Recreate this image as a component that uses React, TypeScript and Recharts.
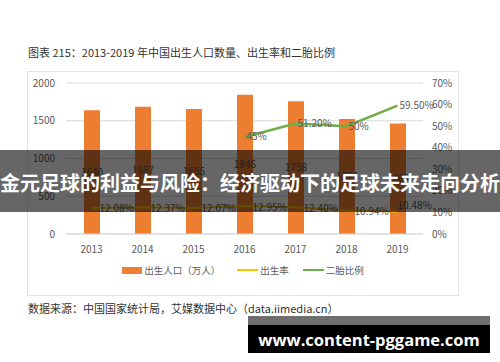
import React from "react";
import {
  ComposedChart,
  Bar,
  Line,
  XAxis,
  YAxis,
  CartesianGrid,
  Legend,
  LabelList,
} from "recharts";

const years = ["2013", "2014", "2015", "2016", "2017", "2018", "2019"];
const births = [1640, 1687, 1655, 1846, 1758, 1523, 1465];
const birthRate = [12.08, 12.37, 12.07, 12.95, 12.4, 10.94, 10.48];
const secondChild = [null, null, null, 45, 51.2, 50, 59.5];

const leftTicks = [0, 500, 1000, 1500, 2000];
const rightTicks = [0, 10, 20, 30, 40, 50, 60, 70];

const data = years.map((y, i) => ({
  year: y,
  births: births[i],
  birthRate: birthRate[i],
  secondChild: secondChild[i],
}));

const FONT = '"Noto Sans CJK SC", "Noto Sans", sans-serif';
const ORANGE = "#ED7D31";
const YELLOW = "#FFC000";
const GREEN = "#70AD47";
const TICK = { fill: "#595959", fontSize: 10, fontFamily: FONT };

const fmtPct = (v: any) => {
  if (v == null) return "";
  const n = Number(v);
  return Number.isInteger(n) ? `${n}%` : `${n.toFixed(2)}%`;
};

// last birth-rate label sits above the point, the rest to the right
const RateLabel = (props: any) => {
  const { x, y, value, index } = props;
  const last = index === birthRate.length - 1;
  return (
    <text
      x={x + (last ? 0 : 8)}
      y={y + (last ? -7 : 0)}
      dominantBaseline="central"
      fill="#595959"
      fontSize={10}
      fontFamily={FONT}
    >
      {fmtPct(value)}
    </text>
  );
};

const LegendBox = () => (
  <div
    style={{
      height: 20,
      display: "flex",
      alignItems: "center",
      justifyContent: "center",
      fontFamily: FONT,
      fontSize: 9.5,
      color: "#595959",
    }}
  >
    <span style={{ width: 20, height: 7, background: ORANGE, marginRight: 2 }} />
    <span style={{ marginRight: 17 }}>出生人口（万人）</span>
    <span style={{ width: 21, height: 2, background: YELLOW, marginRight: 2 }} />
    <span style={{ marginRight: 14 }}>出生率</span>
    <span style={{ width: 21, height: 2, background: GREEN, marginRight: 2 }} />
    <span>二胎比例</span>
  </div>
);

export default function App() {
  return (
    <div
      style={{
        position: "absolute",
        left: 0,
        top: 0,
        width: 500,
        height: 362,
        background: "#fff",
        overflow: "hidden",
        fontFamily: FONT,
      }}
    >
      <div
        style={{
          position: "absolute",
          left: 28,
          top: 44,
          fontSize: 11,
          color: "#333",
          whiteSpace: "nowrap",
        }}
      >
        图表 215：2013-2019 年中国出生人口数量、出生率和二胎比例
      </div>

      <div
        style={{
          position: "absolute",
          left: 27,
          top: 71,
          width: 432,
          height: 225,
          border: "1px solid #e3e3e3",
          boxSizing: "border-box",
        }}
      >
        <div style={{ position: "absolute", left: -1, top: -1 }}>
          <ComposedChart
            width={432}
            height={225}
            data={data}
            margin={{ top: 12, right: 0, bottom: 16, left: 0 }}
          >
            <CartesianGrid yAxisId="left" vertical={false} stroke="#d9d9d9" />
            <XAxis
              dataKey="year"
              height={26}
              tickLine={false}
              tickSize={0}
              tickMargin={12}
              axisLine={{ stroke: "#d9d9d9" }}
              tick={TICK}
            />
            <YAxis
              yAxisId="left"
              width={39}
              domain={[0, 2000]}
              ticks={leftTicks}
              tickLine={false}
              axisLine={false}
              tickSize={0}
              tickMargin={11}
              tick={TICK}
            />
            <YAxis
              yAxisId="right"
              orientation="right"
              width={36}
              domain={[0, 70]}
              ticks={rightTicks}
              tickFormatter={(v) => `${v}%`}
              tickLine={false}
              axisLine={false}
              tickSize={0}
              tickMargin={9}
              tick={TICK}
            />
            <Legend verticalAlign="bottom" content={<LegendBox />} />
            <Bar
              yAxisId="left"
              dataKey="births"
              fill={ORANGE}
              barSize={16}
              isAnimationActive={false}
            >
              <LabelList
                dataKey="births"
                position="center"
                fill="#595959"
                fontSize={10}
                fontFamily={FONT}
              />
            </Bar>
            <Line
              yAxisId="right"
              dataKey="birthRate"
              stroke={YELLOW}
              strokeWidth={2}
              dot={false}
              isAnimationActive={false}
            >
              <LabelList dataKey="birthRate" content={<RateLabel />} />
            </Line>
            <Line
              yAxisId="right"
              dataKey="secondChild"
              stroke={GREEN}
              strokeWidth={2.5}
              dot={false}
              connectNulls={false}
              isAnimationActive={false}
            >
              <LabelList
                dataKey="secondChild"
                position="right"
                offset={2}
                formatter={fmtPct}
                fill="#595959"
                fontSize={10}
                fontFamily={FONT}
              />
            </Line>
          </ComposedChart>
        </div>
      </div>

      <div
        style={{
          position: "absolute",
          left: 28,
          top: 300,
          fontSize: 11,
          color: "#333",
          whiteSpace: "nowrap",
        }}
      >
        数据来源：中国国家统计局，艾媒数据中心（data.iimedia.cn）
      </div>

      <div
        style={{
          position: "absolute",
          left: 0,
          top: 150,
          width: 500,
          height: 62,
          background: "rgba(0,0,0,0.6)",
          display: "flex",
          alignItems: "center",
        }}
      >
        <span
          style={{
            color: "#fff",
            fontSize: 20,
            fontWeight: 700,
            whiteSpace: "nowrap",
            lineHeight: "24px",
            marginTop: 3,
          }}
        >
          金元足球的利益与风险：经济驱动下的足球未来走向分析
        </span>
      </div>

      <div
        style={{
          position: "absolute",
          left: 248,
          top: 316,
          width: 242,
          height: 9,
          background: "#6e6e6e",
        }}
      />
      <div
        style={{
          position: "absolute",
          left: 248,
          top: 325,
          width: 242,
          height: 28,
          background: "#000",
          color: "#fff",
          display: "flex",
          alignItems: "center",
          justifyContent: "center",
          fontFamily: '"Open Sans", "DejaVu Sans", sans-serif',
          fontWeight: 700,
          fontSize: 16.5,
          whiteSpace: "nowrap",
        }}
      >
        www.content-pggame.com
      </div>
    </div>
  );
}
